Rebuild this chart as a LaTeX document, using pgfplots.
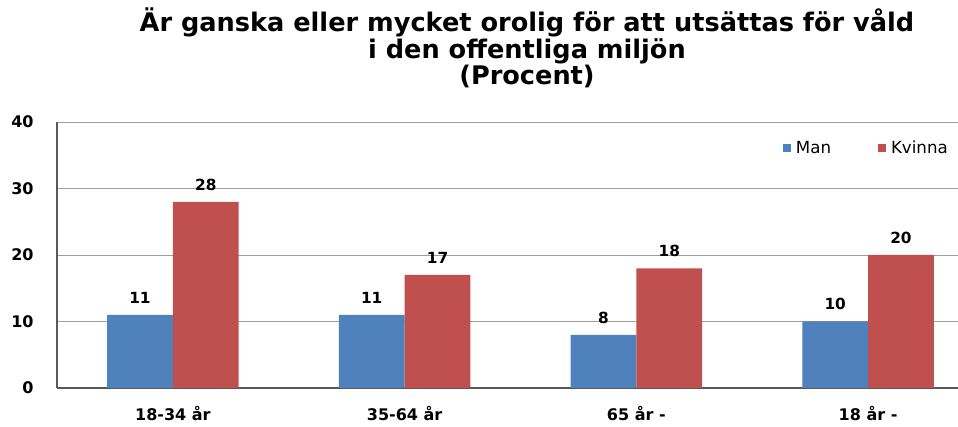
\documentclass[border=0pt]{standalone}
\usepackage{fontspec}
\setmainfont{DejaVu Sans}
\usepackage{pgfplots}
\pgfplotsset{compat=1.18}
\definecolor{cblue}{HTML}{4F81BD}
\definecolor{cred}{HTML}{C0504D}
\begin{document}
\begin{tikzpicture}
\begin{axis}[
  at={(42.75pt,29.25pt)}, anchor=south west,
  scale only axis, width=675.75pt, height=199.5pt,
  xmin=-0.5, xmax=3.388, ymin=0, ymax=40,
  ytick={0,10,20,30,40},
  xtick={0,1,2,3}, xticklabels={18-34 år,35-64 år,65 år -,18 år -},
  ybar=0pt, bar width=0.284,
  /pgf/number format/assume math mode=true,
  ymajorgrids, grid style={color=gray!75, line width=0.6pt},
  axis x line*=bottom, axis y line*=left,
  axis line style={-, draw=black!65, line width=1pt},
  major tick length=0pt,
  tick label style={font=\bfseries\fontsize{12}{12}\selectfont},
  yticklabel style={xshift=-14pt},
  xticklabel style={yshift=-10pt},
  nodes near coords,
  nodes near coords style={font=\bfseries\fontsize{11.5}{12}\selectfont, yshift=5pt},
  legend style={at={(0.805,0.902)}, anchor=west, draw=none, fill=none, legend columns=2,
    font=\fontsize{12.5}{13}\selectfont, inner sep=0pt,
    /tikz/every even column/.append style={column sep=33pt}},
  legend image code/.code={\fill[#1] (0pt,-3pt) rectangle (6pt,3pt);},
  legend cell align=left,
  legend style={/tikz/every odd column/.append style={column sep=2pt}},
]
\addplot[fill=cblue, draw=none] coordinates {(0,11) (1,11) (2,8) (3,10)};
\addplot[fill=cred, draw=none] coordinates {(0,28) (1,17) (2,18) (3,20)};
\legend{Man, Kvinna}
\end{axis}
\node[font=\bfseries\fontsize{19.2}{20}\selectfont, align=center] at (395.25pt,284.25pt)
  {Är ganska eller mycket orolig för att utsättas för våld\\i den offentliga miljön\\(Procent)};
\pgfresetboundingbox
\useasboundingbox (0,0) rectangle (718.5pt,320.25pt);
\end{tikzpicture}
\end{document}
